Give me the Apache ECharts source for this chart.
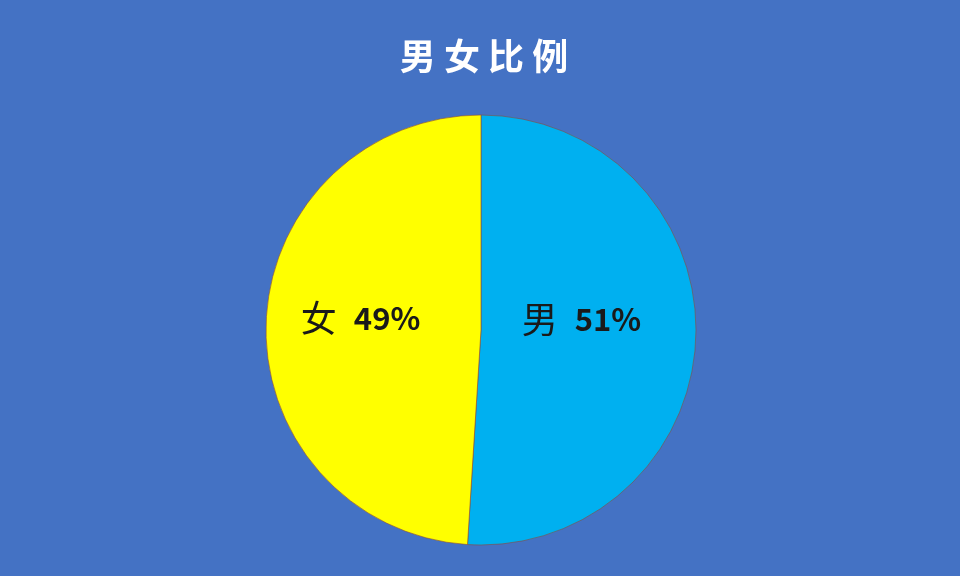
<!DOCTYPE html>
<html><head><meta charset="utf-8">
<script src="https://cdn.jsdelivr.net/npm/echarts@6/dist/echarts.min.js"></script>
<style>html,body{margin:0;padding:0;background:#4472C4;}#c{width:960px;height:576px;}</style>
</head><body><div id="c"></div>
<script>
const categories = ['男', '女'];
const values = [51, 49];
const colors = ['#00B0F0', '#FFFF00'];
const titleText = '男女比例';
const labelOffsets = [[-10, -14], [-10, -8]];

const chart = echarts.init(document.getElementById('c'));
chart.setOption({
  backgroundColor: '#4472C4',
  title: {
    text: titleText.split('').join(' '),
    left: 479, textAlign: 'center', top: 33,
    textStyle: { color: '#ffffff', fontSize: 36, fontWeight: 'bold', fontFamily: 'Noto Sans CJK SC' }
  },
  series: [{
    type: 'pie',
    center: [481, 330],
    radius: 215,
    startAngle: 90,
    clockwise: true,
    animation: false,
    data: categories.map((c, i) => ({
      name: c, value: values[i],
      itemStyle: { color: colors[i] },
      label: { offset: labelOffsets[i] }
    })),
    itemStyle: { borderColor: '#8a4a3a', borderWidth: 0.6 },
    label: {
      position: 'inside',
      formatter: p => '{n|' + p.name + '}{s| }{v|' + p.value + '%}',
      rich: {
        n: { fontSize: 36, color: '#1a1a1a', fontFamily: 'Noto Sans CJK SC' },
        s: { width: 17 },
        v: { fontSize: 31, color: '#1a1a1a', fontWeight: 'bold', fontFamily: 'Noto Sans CJK SC' }
      }
    },
    labelLine: { show: false }
  }]
});
</script></body></html>
